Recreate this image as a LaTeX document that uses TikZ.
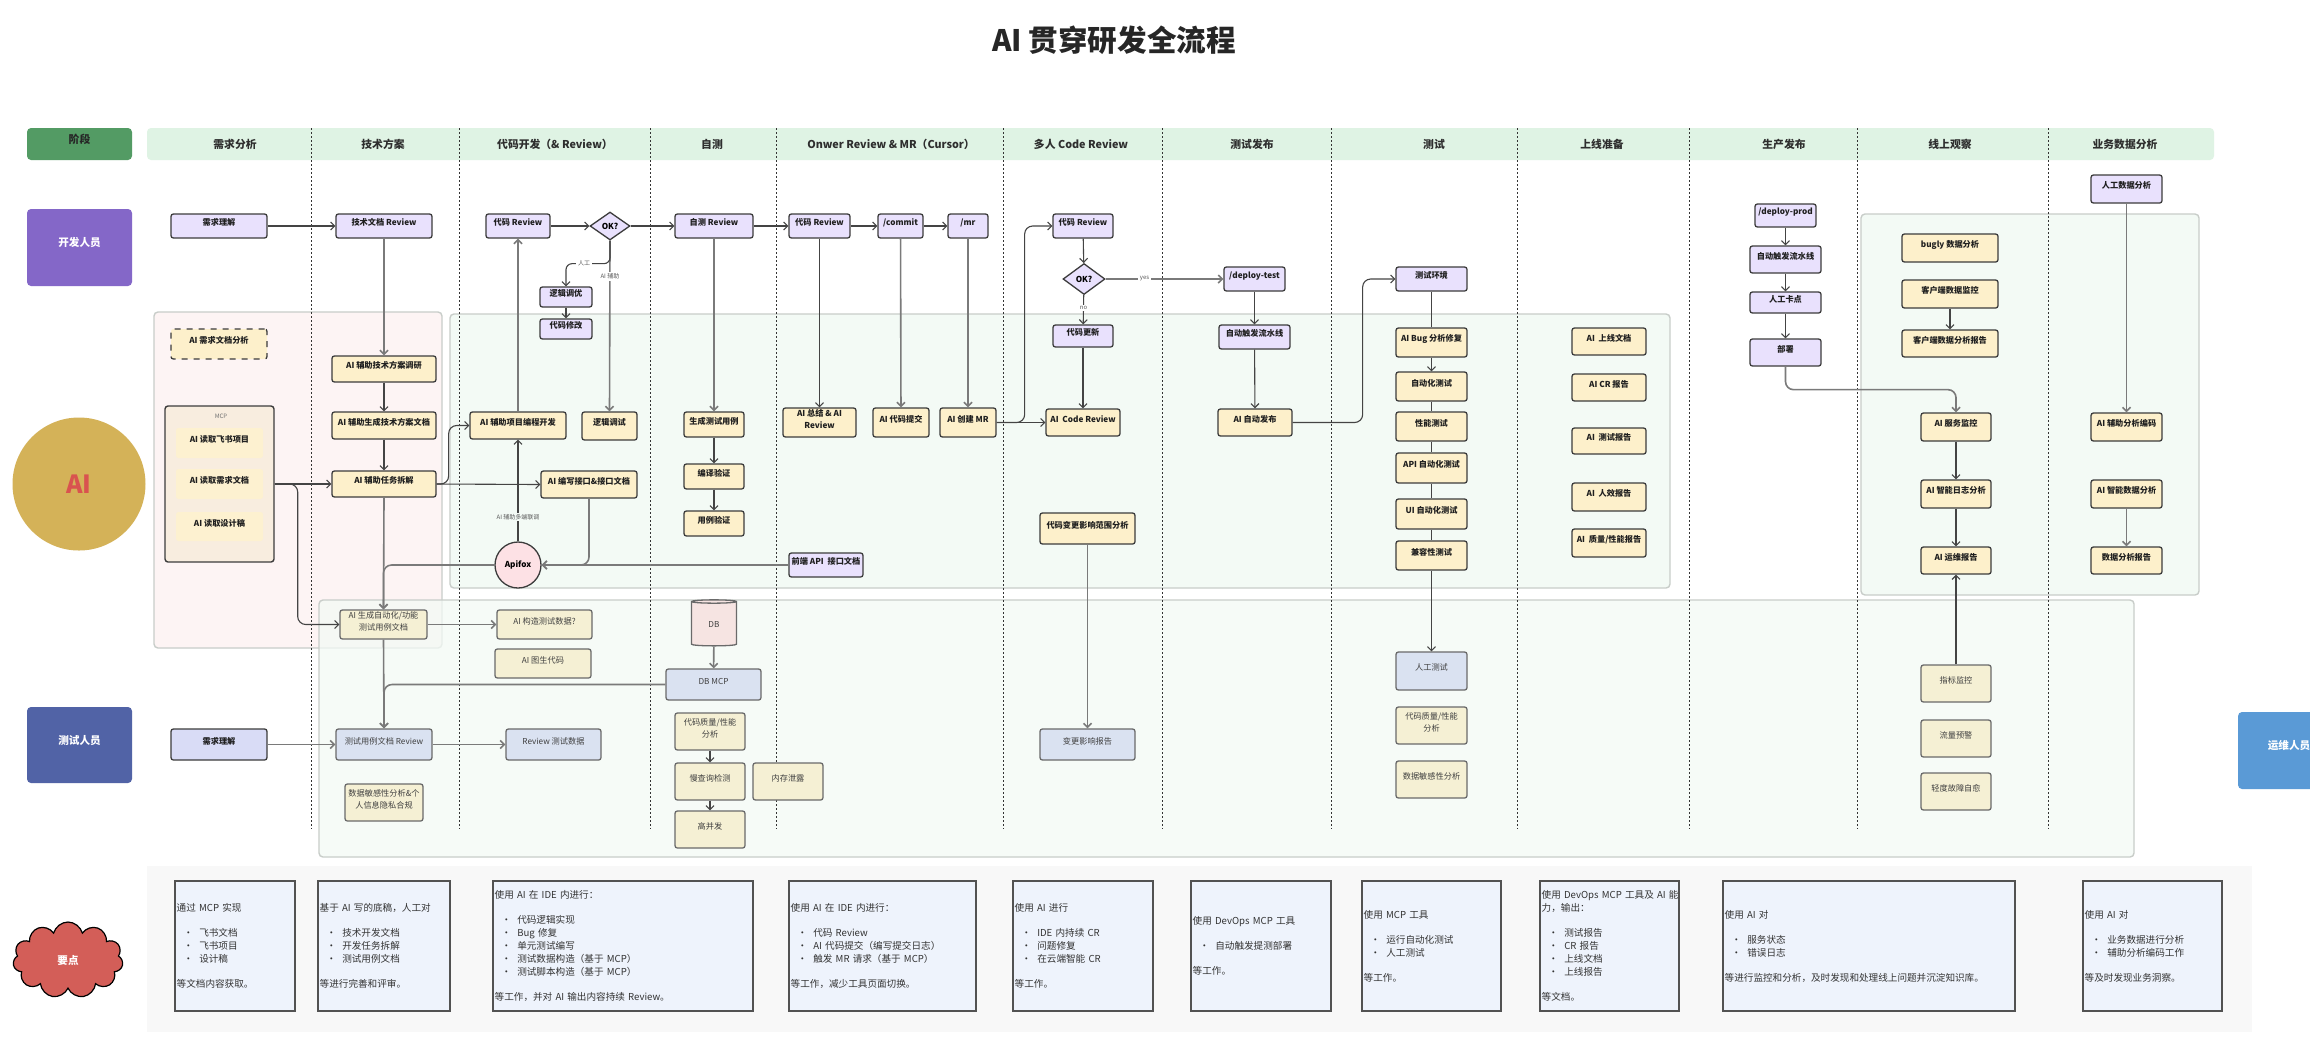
\documentclass[tikz,border=0pt]{standalone}
\usepackage{fontspec}
\setmainfont{Noto Sans CJK SC}
\XeTeXlinebreaklocale "zh"
\usetikzlibrary{arrows.meta,shapes.geometric,shapes.symbols,fit}
\definecolor{cPur}{HTML}{E9E1FD}
\definecolor{cYel}{HTML}{FDF0CB}
\definecolor{cYel2}{HTML}{FDF1D0}
\definecolor{cBei}{HTML}{F5F0D4}
\definecolor{cBlu}{HTML}{DAE2F1}
\definecolor{cTq}{HTML}{D9DCF6}
\definecolor{cBd}{HTML}{3C3C3C}
\definecolor{cBd2}{HTML}{6A6A6A}
\definecolor{cLn}{HTML}{444444}
\definecolor{cLn2}{HTML}{7A7A7A}
\definecolor{cHdr}{HTML}{DFF3E4}
\definecolor{cStage}{HTML}{539B64}
\definecolor{cDev}{HTML}{8467C8}
\definecolor{cGold}{HTML}{D4B258}
\definecolor{cAIr}{HTML}{D9534F}
\definecolor{cTest}{HTML}{5163A6}
\definecolor{cOps}{HTML}{5A9AD6}
\definecolor{cCloud}{HTML}{D35E58}
\definecolor{cPink}{HTML}{FDF4F4}
\definecolor{cGrn}{HTML}{F3FAF5}
\definecolor{cPanelBd}{HTML}{C8CDC9}
\definecolor{cMcp}{HTML}{F8EDDF}
\definecolor{cNote}{HTML}{EEF3FC}
\definecolor{cNoteBg}{HTML}{F8F8F8}
\definecolor{cDb}{HTML}{F6E4E2}
\definecolor{cApi}{HTML}{FDE1E5}
\newcommand\bul{\hspace*{3.5pt}•\hspace{3pt}}
\begin{document}
\begin{tikzpicture}[x=0.5pt,y=-0.5pt,
  fs/.style={font=\fontsize{4.1pt}{6pt}\selectfont},
  fsb/.style={font=\bfseries\fontsize{4.1pt}{6pt}\selectfont},
  nbox/.style={rectangle, rounded corners=1.2pt, inner sep=0pt, line width=0.65pt, align=center},
  pbox/.style={nbox, fsb, draw=cBd, fill=cPur, text=black!88},
  ybox/.style={nbox, fsb, draw=cBd, fill=cYel, text=black!88},
  bbox/.style={nbox, fs, draw=cBd2, fill=cBei, text=black!75},
  gbox/.style={nbox, fs, draw=cBd2, fill=cBlu, text=black!75},
  tqbox/.style={nbox, fsb, draw=cBd, fill=cTq, text=black!88},
  rbox/.style={nbox, fill=cYel2, fsb, text=black!88},
  dia/.style={diamond, draw=cBd, fill=cPur, line width=0.65pt, inner sep=0pt, fsb},
  role/.style={rectangle, rounded corners=2pt, inner sep=0pt, text=white, font=\bfseries\fontsize{5.3pt}{6pt}\selectfont},
  panel/.style={rectangle, rounded corners=2pt, inner sep=0pt, draw=cPanelBd, line width=0.7pt},
  hdr/.style={font=\bfseries\fontsize{5.4pt}{6pt}\selectfont, text=black!82},
  divl/.style={draw=black!80, line width=0.5pt, dash pattern=on 1pt off 1pt},
  conn/.style={draw=cLn, line width=0.55pt},
  arr/.style={conn, -{Straight Barb[length=2pt,width=4pt]}},
  larr/.style={arr, draw=cLn2, line width=0.8pt},
  lab/.style={font=\fontsize{3pt}{3.5pt}\selectfont, text=black!65, inner sep=0.8pt},
  notefr/.style={rectangle, inner sep=0pt, draw=black!68, line width=0.7pt, fill=cNote},
  notetxt/.style={anchor=west, inner sep=0pt, align=left, text=black!80, font=\fontsize{4.8pt}{6.5pt}\selectfont}
]
\useasboundingbox (0,0) rectangle (2310,1056);
\clip (0,0) rectangle (2310,1056);
\fill[white] (0,0) rectangle (2310,1056);

% title
\node[font=\bfseries\fontsize{14.8pt}{16pt}\selectfont, text=black!85] (title) at (1114,40) {AI 贯穿研发全流程};

% panels
\node[panel, fill=cPink, fit={(154,312)(442,648)}] (pp) {};
\node[panel, fill=cGrn, fill opacity=0.75, fit={(319,600)(2134,857)}] (pb) {};
\node[panel, fill=cGrn, fit={(450,314)(1670,588)}] (pm) {};
\node[panel, fill=cGrn, fit={(1861,214)(2199,595)}] (pr) {};
\node[rectangle, inner sep=0pt, fill=cNoteBg, fit={(147,866)(2252,1032)}] (pn) {};

% header
\node[rectangle, rounded corners=2pt, inner sep=0pt, fill=cStage, hdr, text=black!85, fit={(27,128)(132,160)}] (hst) {阶段};
\node[rectangle, rounded corners=2pt, inner sep=0pt, fill=cHdr, fit={(147,128)(2214,160)}] (hband) {};
\foreach \xx in {311,459,650,776,1003,1162,1331,1517,1689,1857,2048}
  \draw[divl] (\xx,128) -- (\xx,829);
\node[hdr] (h1) at (235,144) {需求分析};
\node[hdr] (h2) at (383,144) {技术方案};
\node[hdr] (h3) at (555,144) {代码开发（\& Review）};
\node[hdr] (h4) at (712,144) {自测};
\node[hdr] (h5) at (891,144) {Onwer Review \& MR（Cursor）};
\node[hdr] (h6) at (1081,144) {多人 Code Review};
\node[hdr] (h7) at (1252,144) {测试发布};
\node[hdr] (h8) at (1434,144) {测试};
\node[hdr] (h9) at (1602,144) {上线准备};
\node[hdr] (h10) at (1784,144) {生产发布};
\node[hdr] (h11) at (1950,144) {线上观察};
\node[hdr] (h12) at (2125,144) {业务数据分析};

% roles
\node[role, fill=cDev, fit={(27,209)(132,286)}] (dev) {开发人员};
\node[circle, fill=cGold, minimum size=66.5pt, inner sep=0pt, text=cAIr, font=\bfseries\fontsize{12.5pt}{13pt}\selectfont] (ai) at (79,484) {AI};
\node[role, fill=cTest, fit={(27,707)(132,783)}] (tester) {测试人员};
\node[role, fill=cOps, fit={(2238,712)(2340,789)}] (ops) {运维人员};
\node[cloud, cloud puffs=11, aspect=1.45, fill=cCloud, draw=black, line width=0.6pt, minimum width=55pt, minimum height=38pt, inner sep=0pt, text=white, font=\bfseries\fontsize{5.3pt}{6pt}\selectfont] (yd) at (68,960) {要点};

% ---------- dev row (purple) ----------
\node[pbox, fit={(171,214)(267,238)}] (xqlj) {需求理解};
\node[pbox, fit={(336,214)(432,238)}] (jswd) {技术文档 Review};
\node[pbox, fit={(486,214)(550,238)}] (dmr1) {代码 Review};
\node[dia, minimum width=20pt, minimum height=14pt] (ok1) at (610,226) {OK?};
\node[pbox, fit={(540,287)(592,307)}] (ljyo) {逻辑调优};
\node[pbox, fit={(540,319)(592,339)}] (dmxg) {代码修改};
\node[pbox, fit={(675,214)(753,238)}] (zcr) {自测 Review};
\node[pbox, fit={(789,214)(850,238)}] (odr) {代码 Review};
\node[pbox, fit={(878,214)(923,238)}] (commit) {/commit};
\node[pbox, fit={(948,214)(988,238)}] (mr) {/mr};
\node[pbox, fit={(1053,214)(1113,238)}] (mcr) {代码 Review};
\node[dia, minimum width=21pt, minimum height=15.5pt] (ok2) at (1084,279) {OK?};
\node[pbox, fit={(1053,325)(1113,347)}] (gx) {代码更新};
\node[pbox, fit={(1224,267)(1285,291)}] (dtest) {/deploy-test};
\node[pbox, fit={(1219,325)(1290,349)}] (lsx1) {自动触发流水线};
\node[pbox, fit={(1396,267)(1467,291)}] (csh) {测试环境};
\node[pbox, fit={(1755,204)(1816,227)}] (dprod) {/deploy-prod};
\node[pbox, fit={(1750,246)(1821,273)}] (lsx2) {自动触发流水线};
\node[pbox, fit={(1750,292)(1821,313)}] (rgkd) {人工卡点};
\node[pbox, fit={(1750,339)(1821,366)}] (bs) {部署};
\node[pbox, fit={(2091,175)(2162,203)}] (rgsj) {人工数据分析};
\node[pbox, fit={(789,553)(863,577)}] (qdapi) {前端 API\ \ 接口文档};

% ---------- AI (yellow) ----------
\node[ybox, dashed, fit={(171,329)(267,359)}] (aidoc) {AI 需求文档分析};
\node[nbox, draw=cBd, fill=cMcp, line width=0.7pt, rounded corners=1.5pt, fit={(165,406)(274,562)}] (mcp) {};
\node[lab, text=black!55] (mcpl) at (221,416) {MCP};
\node[rbox, fit={(176,428)(263,458)}] (rd1) {AI 读取飞书项目};
\node[rbox, fit={(176,469)(263,499)}] (rd2) {AI 读取需求文档};
\node[rbox, fit={(176,512)(263,541)}] (rd3) {AI 读取设计稿};
\node[ybox, fit={(332,356)(436,382)}] (ty) {AI 辅助技术方案调研};
\node[ybox, fit={(332,412)(436,439)}] (sc) {AI 辅助生成技术方案文档};
\node[ybox, fit={(332,471)(436,497)}] (cj) {AI 辅助任务拆解};
\node[ybox, fit={(470,412)(566,439)}] (bc) {AI 辅助项目编程开发};
\node[ybox, fit={(582,412)(637,440)}] (ljts) {逻辑调试};
\node[ybox, fit={(541,471)(637,498)}] (jk) {AI 编写接口\&接口文档};
\node[circle, draw=cBd, fill=cApi, line width=0.65pt, minimum size=23pt, inner sep=0pt, fsb] (apifox) at (518,565) {Apifox};
\node[ybox, fit={(684,412)(744,437)}] (scyl) {生成测试用例};
\node[ybox, fit={(684,464)(744,489)}] (byyz) {编译验证};
\node[ybox, fit={(684,511)(744,536)}] (ylyz) {用例验证};
\node[ybox, fit={(783,408)(856,437)}] (zj) {AI 总结 \& AI\\Review};
\node[ybox, fit={(873,408)(929,437)}] (tj) {AI 代码提交};
\node[ybox, fit={(940,408)(996,437)}] (cjmr) {AI 创建 MR};
\node[ybox, fit={(1046,409)(1120,436)}] (aicr) {AI\ \ Code Review};
\node[ybox, fit={(1040,513)(1135,544)}] (bgfx) {代码变更影响范围分析};
\node[ybox, fit={(1218,409)(1292,436)}] (zdfb) {AI 自动发布};
\node[ybox, fit={(1396,328)(1467,357)}] (bug) {AI Bug 分析修复};
\node[ybox, fit={(1396,372)(1467,401)}] (zdh) {自动化测试};
\node[ybox, fit={(1396,412)(1467,441)}] (xn) {性能测试};
\node[ybox, fit={(1396,453)(1467,483)}] (apit) {API 自动化测试};
\node[ybox, fit={(1396,499)(1467,529)}] (uit) {UI 自动化测试};
\node[ybox, fit={(1396,541)(1467,570)}] (jr) {兼容性测试};
\node[ybox, fit={(1572,328)(1646,355)}] (sx1) {AI\ \ 上线文档};
\node[ybox, fit={(1572,374)(1646,401)}] (sx2) {AI CR 报告};
\node[ybox, fit={(1572,428)(1646,454)}] (sx3) {AI\ \ 测试报告};
\node[ybox, fit={(1572,483)(1646,511)}] (sx4) {AI\ \ 人效报告};
\node[ybox, fit={(1572,529)(1646,557)}] (sx5) {AI\ \ 质量/性能报告};
\node[ybox, fit={(1902,234)(1998,262)}] (bugly) {bugly 数据分析};
\node[ybox, fit={(1902,280)(1998,308)}] (khjk) {客户端数据监控};
\node[ybox, fit={(1902,330)(1998,357)}] (khbg) {客户端数据分析报告};
\node[ybox, fit={(1921,413)(1991,441)}] (fwjk) {AI 服务监控};
\node[ybox, fit={(1921,480)(1991,508)}] (rzfx) {AI 智能日志分析};
\node[ybox, fit={(1921,547)(1991,574)}] (ywbg) {AI 运维报告};
\node[ybox, fit={(2091,413)(2162,441)}] (fzbm) {AI 辅助分析编码};
\node[ybox, fit={(2091,480)(2162,508)}] (znsj) {AI 智能数据分析};
\node[ybox, fit={(2091,547)(2162,574)}] (sjbg) {数据分析报告};

% ---------- tester area ----------
\node[tqbox, fit={(171,729)(267,760)}] (txq) {需求理解};
\node[gbox, fit={(336,729)(432,760)}] (tcr) {测试用例文档 Review};
\node[gbox, fit={(506,729)(601,760)}] (rvd) {Review 测试数据};
\node[bbox, fit={(345,784)(423,821)}] (ysm) {数据敏感性分析\&个\\人信息隐私合规};
\node[bbox, fit={(340,610)(427,639)}] (aisc) {AI 生成自动化/功能\\测试用例文档};
\node[bbox, fit={(497,610)(592,639)}] (gzsj) {AI 构造测试数据?};
\node[bbox, fit={(495,649)(591,678)}] (tsdm) {AI 图生代码};
\node[cylinder, shape border rotate=90, aspect=0.3, draw=cBd2, fill=cDb, line width=0.65pt, minimum width=22.5pt, minimum height=23pt, inner sep=0pt, fs, text=black!75] (db) at (714,624) {DB};
\node[gbox, fit={(666,669)(761,700)}] (dbmcp) {DB MCP};
\node[bbox, fit={(675,713)(745,750)}] (zlfx) {代码质量/性能\\分析};
\node[bbox, fit={(675,763)(745,800)}] (mcx) {慢查询检测};
\node[bbox, fit={(753,763)(823,800)}] (ncxl) {内存泄露};
\node[bbox, fit={(675,811)(745,848)}] (gbf) {高并发};
\node[gbox, fit={(1040,729)(1135,760)}] (bgbg) {变更影响报告};
\node[gbox, fit={(1396,652)(1467,690)}] (rgcs) {人工测试};
\node[bbox, fit={(1396,707)(1467,744)}] (zlfx2) {代码质量/性能\\分析};
\node[bbox, fit={(1396,761)(1467,798)}] (sjmg) {数据敏感性分析};
\node[bbox, fit={(1921,665)(1991,702)}] (zbjk) {指标监控};
\node[bbox, fit={(1921,720)(1991,757)}] (llyj) {流量预警};
\node[bbox, fit={(1921,773)(1991,810)}] (gzzy) {轻度故障自愈};

% ---------- connectors ----------
\draw[arr] (xqlj) -- (jswd);
\draw[larr] (jswd) -- (ty);
\draw[arr] (ty) -- (sc);
\draw[arr] (sc) -- (cj);
\draw[arr] (mcp.east) -- (cj.west);
\draw[arr, rounded corners=4pt] (mcp.east) -- ++(23,0) |- (aisc.west);
\draw[arr] (cj.east) -- (jk.west);
\draw[arr, rounded corners=4pt] (cj.east) -- ++(12,0) |- (bc.west);
\draw[larr] (cj.south) -- (aisc.north);
\draw[larr, rounded corners=4pt] (apifox.west) -| (aisc.north);
\draw[larr] (bc.north) -- (dmr1.south);
\draw[arr] (apifox.north) -- node[lab, fill=cGrn, pos=0.24] (lbl1) {AI 辅助多端联调} (bc.south);
\draw[larr, rounded corners=4pt] (jk.south) |- (apifox.east);
\draw[larr] (qdapi.west) -- (apifox.east);
\draw[arr] (dmr1) -- (ok1);
\draw[arr] (ok1) -- (zcr);
\draw[larr] (ok1.south) -- node[lab, fill=white, pos=0.21] (lbl2) {AI 辅助} (ljts.north);
\draw[arr, rounded corners=3pt] (ok1.south) -- ++(0,23) -| (ljyo.north);
\node[lab, fill=white] (lbl3) at (584,263) {人工};
\draw[arr] (ljyo) -- (dmxg);
\draw[arr] (zcr) -- (odr);
\draw[arr] (odr) -- (commit);
\draw[arr] (commit) -- (mr);
\draw[larr] (zcr) -- (scyl);
\draw[arr] (scyl) -- (byyz);
\draw[arr] (byyz) -- (ylyz);
\draw[arr] (odr) -- (zj);
\draw[larr] (commit) -- (tj);
\draw[larr] (mr) -- (cjmr);
\draw[arr] (cjmr) -- (aicr);
\draw[arr, rounded corners=4pt] (cjmr.east) -- ++(28,0) |- (mcr.west);
\draw[arr] (mcr) -- (ok2);
\draw[larr] (ok2) -- node[lab, fill=white, pos=0.33] (lbl4) {yes} (dtest);
\draw[arr] (ok2) -- node[lab, fill=white, pos=0.45] (lbl5) {no} (gx);
\draw[arr] (gx) -- (aicr);
\draw[larr] (bgfx) -- (bgbg);
\draw[arr] (dtest) -- (lsx1);
\draw[arr] (lsx1) -- (zdfb);
\draw[arr, rounded corners=4pt] (zdfb.east) -- ++(70,0) |- (csh.west);
\draw[conn] (csh) -- (bug);
\draw[arr] (bug) -- (zdh);
\draw[conn] (zdh) -- (xn);
\draw[conn] (xn) -- (apit);
\draw[conn] (apit) -- (uit);
\draw[conn] (uit) -- (jr);
\draw[arr] (jr) -- (rgcs);
\draw[arr] (dprod) -- (lsx2);
\draw[arr] (lsx2) -- (rgkd);
\draw[arr] (rgkd) -- (bs);
\draw[larr, rounded corners=4pt] (bs.south) -- ++(0,23) -| (fwjk.north);
\draw[arr] (khjk) -- (khbg);
\draw[arr] (fwjk) -- (rzfx);
\draw[arr] (rzfx) -- (ywbg);
\draw[arr] (zbjk) -- (ywbg);
\draw[larr] (rgsj) -- (fzbm);
\draw[larr] (znsj) -- (sjbg);
\draw[larr] (txq) -- (tcr);
\draw[larr] (tcr) -- (rvd);
\draw[larr] (aisc.south) -- (tcr.north);
\draw[larr, rounded corners=4pt] (dbmcp.west) -| (tcr.north);
\draw[larr] (aisc) -- (gzsj);
\draw[larr] (db) -- (dbmcp);
\draw[arr] (zlfx) -- (mcx);
\draw[arr] (mcx) -- (gbf);

% ---------- notes ----------
\node[notefr, fit={(175,881)(295,1011)}] (n1) {};
\node[notetxt, text width=58pt] (n1t) at ([xshift=1pt]n1.west) {通过 MCP 实现\\[6pt]\bul 飞书文档\\\bul 飞书项目\\\bul 设计稿\\[6pt]等文档内容获取。};
\node[notefr, fit={(318,881)(450,1011)}] (n2) {};
\node[notetxt, text width=64pt] (n2t) at ([xshift=1pt]n2.west) {基于 AI 写的底稿，人工对\\[6pt]\bul 技术开发文档\\\bul 开发任务拆解\\\bul 测试用例文档\\[6pt]等进行完善和评审。};
\node[notefr, fit={(493,881)(753,1011)}] (n3) {};
\node[notetxt, text width=128pt] (n3t) at ([xshift=1pt]n3.west) {使用 AI 在 IDE 内进行：\\[6pt]\bul 代码逻辑实现\\\bul Bug 修复\\\bul 单元测试编写\\\bul 测试数据构造（基于 MCP）\\\bul 测试脚本构造（基于 MCP）\\[6pt]等工作，并对 AI 输出内容持续 Review。};
\node[notefr, fit={(789,881)(976,1011)}] (n4) {};
\node[notetxt, text width=91.5pt] (n4t) at ([xshift=1pt]n4.west) {使用 AI 在 IDE 内进行：\\[6pt]\bul 代码 Review\\\bul AI 代码提交（编写提交日志）\\\bul 触发 MR 请求（基于 MCP）\\[6pt]等工作，减少工具页面切换。};
\node[notefr, fit={(1013,881)(1153,1011)}] (n5) {};
\node[notetxt, text width=68pt] (n5t) at ([xshift=1pt]n5.west) {使用 AI 进行\\[6pt]\bul IDE 内持续 CR\\\bul 问题修复\\\bul 在云端智能 CR\\[6pt]等工作。};
\node[notefr, fit={(1191,881)(1331,1011)}] (n6) {};
\node[notetxt, text width=68pt] (n6t) at ([xshift=1pt]n6.west) {使用 DevOps MCP 工具\\[6pt]\bul 自动触发提测部署\\[6pt]等工作。};
\node[notefr, fit={(1362,881)(1501,1011)}] (n7) {};
\node[notetxt, text width=67.5pt] (n7t) at ([xshift=1pt]n7.west) {使用 MCP 工具\\[6pt]\bul 运行自动化测试\\\bul 人工测试\\[6pt]等工作。};
\node[notefr, fit={(1540,881)(1679,1011)}] (n8) {};
\node[notetxt, text width=68.5pt] (n8t) at ([xshift=1pt]n8.west) {\mbox{使用 DevOps MCP 工具及 AI 能}\\力，输出：\\[6pt]\bul 测试报告\\\bul CR 报告\\\bul 上线文档\\\bul 上线报告\\[6pt]等文档。};
\node[notefr, fit={(1723,881)(2015,1011)}] (n9) {};
\node[notetxt, text width=144pt] (n9t) at ([xshift=1pt]n9.west) {使用 AI 对\\[6pt]\bul 服务状态\\\bul 错误日志\\[6pt]等进行监控和分析，及时发现和处理线上问题并沉淀知识库。};
\node[notefr, fit={(2083,881)(2222,1011)}] (n10) {};
\node[notetxt, text width=67.5pt] (n10t) at ([xshift=1pt]n10.west) {使用 AI 对\\[6pt]\bul 业务数据进行分析\\\bul 辅助分析编码工作\\[6pt]等及时发现业务洞察。};
\end{tikzpicture}
\end{document}
